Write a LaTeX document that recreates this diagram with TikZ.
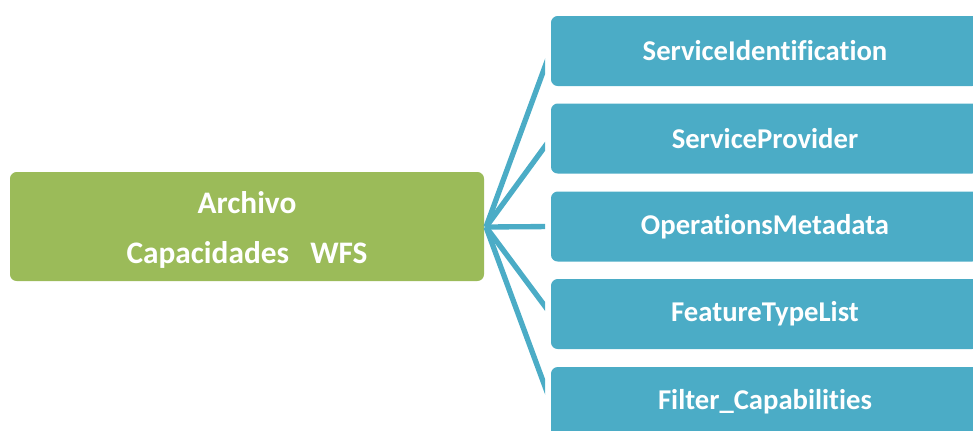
\documentclass[tikz,border=0pt]{standalone}
\usepackage{fontspec}
\setmainfont{Carlito}[Ligatures=NoCommon]
\usepackage{xcolor}
\definecolor{olivegreen}{HTML}{9BBB59}
\definecolor{aquablue}{HTML}{4BACC6}

\begin{document}
\begin{tikzpicture}[x=0.75pt,y=-0.75pt,
		mainbox/.style={fill=olivegreen,rounded corners=5pt,minimum width=355.5pt,minimum height=81.75pt,inner sep=0pt},
		maintext/.style={text=white,font=\fontsize{23.5}{37.5}\selectfont\bfseries,align=center,inner sep=0pt},
		partbox/.style={fill=aquablue,rounded corners=5pt,minimum width=321pt,minimum height=52.5pt,
			text=white,font=\fontsize{21.5}{26}\selectfont\bfseries,inner sep=0pt},
		link/.style={draw=aquablue,line width=4pt}]
			\clip (0,0) rectangle (973,430);
			\node[mainbox] (archivo) at (247,226.5) {};
			\node[maintext] (archivotxt) at ([yshift=-2.25pt]archivo.center) {Archivo\\Capacidades\ \ \ WFS};
			\node[partbox] (sid) at (765,51) {ServiceIdentification};
			\node[partbox] (sprov) at (765,138.5) {ServiceProvider};
			\node[partbox] (opmeta) at (765,226.5) {OperationsMetadata};
			\node[partbox] (ftlist) at (765,314) {FeatureTypeList};
			\node[partbox] (filtcap) at (765,402) {Filter\_Capabilities};
			\coordinate (hub) at (486,227);
			\begin{scope}
				\clip (480,0) rectangle (545,430);
				\draw[link] (hub) -- (sid.west);
				\draw[link] (hub) -- (sprov.west);
				\draw[link] (hub) -- (opmeta.west);
				\draw[link] (hub) -- (ftlist.west);
				\draw[link] (hub) -- (filtcap.west);
			\end{scope}
		\end{tikzpicture}
\end{document}
